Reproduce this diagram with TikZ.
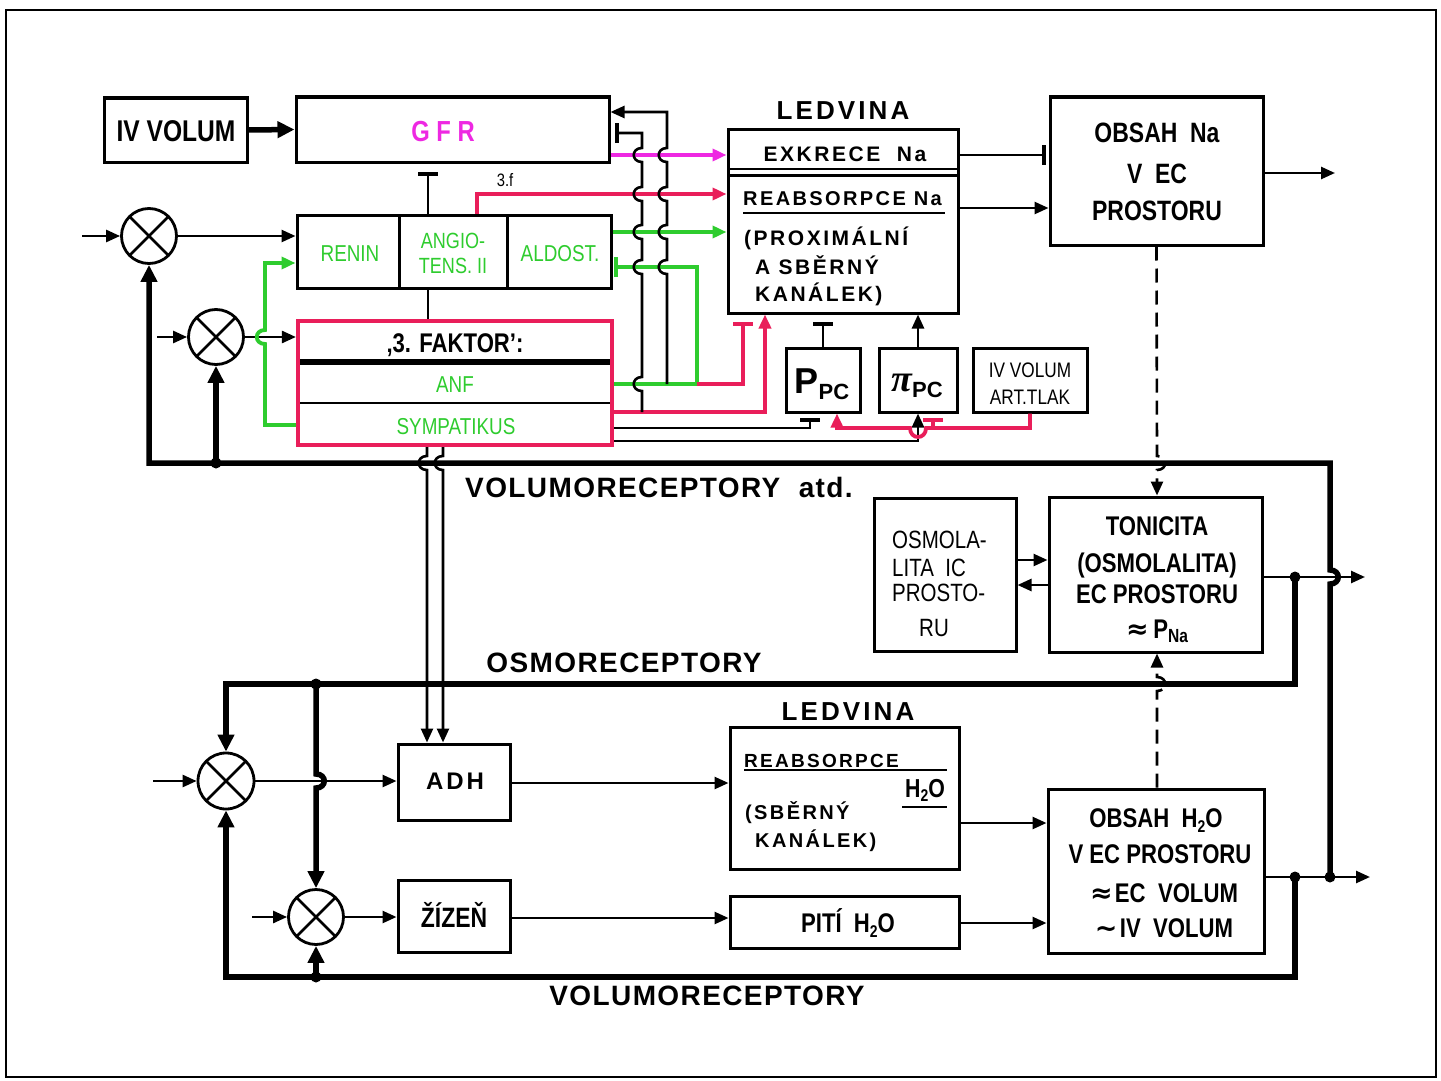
\documentclass[tikz,border=0pt]{standalone}
\usepackage{fontspec}
\setmainfont{Liberation Sans}
\newfontfamily\cond[FakeStretch=0.82]{Liberation Sans}
\newfontfamily\wideA[LetterSpace=5]{Liberation Sans}
\newfontfamily\wideB[LetterSpace=12]{Liberation Sans}
\newfontfamily\grk{Liberation Serif}
\newfontfamily\djv{DejaVu Sans}
\usetikzlibrary{arrows.meta}
\definecolor{tred}{RGB}{233,30,90}
\definecolor{tgreen}{RGB}{46,204,46}
\definecolor{tmag}{RGB}{238,40,226}
\newcommand{\fs}[1]{\fontsize{#1}{#1}\selectfont}
\newcommand{\lowsub}[2]{\raisebox{-0.35ex}{\fs{#1}#2}}
\newcommand{\hopup}[2]{-- (#1,#2+7) .. controls (#1-11,#2+7) and (#1-11,#2-7) .. (#1,#2-7)}
\newcommand{\hopdn}[2]{-- (#1,#2-7) .. controls (#1-11,#2-7) and (#1-11,#2+7) .. (#1,#2+7)}
\newcommand{\hopdnR}[2]{-- (#1,#2-7) .. controls (#1+11,#2-7) and (#1+11,#2+7) .. (#1,#2+7)}
\newcommand{\hopupR}[2]{-- (#1,#2+7) .. controls (#1+11,#2+7) and (#1+11,#2-7) .. (#1,#2-7)}
\begin{document}
\begin{tikzpicture}[x=1pt,y=-1pt,
  box/.style={draw,line width=3pt,inner sep=0pt},
  ln/.style={line width=2.6pt},
  col/.style={line width=3.8pt},
  thk/.style={line width=5.5pt},
  arr/.style={-{Triangle[length=14pt,width=12pt]}},
  Arr/.style={-{Triangle[length=17pt,width=16pt]}},
  inh/.style={-{Bar[width=20pt,line width=4pt]}},
  dsh/.style={dash pattern=on 14pt off 8pt},
  sj/.style={circle,draw,line width=2.8pt,minimum size=55pt,inner sep=0pt,
    path picture={\draw[line width=2.6pt] (path picture bounding box.north west)--(path picture bounding box.south east)
      (path picture bounding box.north east)--(path picture bounding box.south west);}},
  jdot/.style={circle,fill,inner sep=0pt,minimum size=11pt},
  tx/.style={inner sep=0pt,anchor=base},
  txl/.style={inner sep=0pt,anchor=base west},
  bk/.style={font=\cond\bfseries},
  gt/.style={text=tgreen,font=\cond}
]
\useasboundingbox (0,0) rectangle (1441,1081);
\fill[white] (0,0) rectangle (1441,1081);
\draw[line width=2.5pt] (6,10) rectangle (1436,1077);

% helper coordinates
\foreach \v in {427,428,443,477,765,837,918,1157}{\coordinate (x\v) at (\v,0);}
\foreach \v in {112,155,173,194,208,232,263,384,412,425,428,441,560,577,585,783,823,877,918,923}{\coordinate (y\v) at (0,\v);}

% ---------------- boxes ----------------
\node[box,minimum width=143pt,minimum height=64pt] (ivv) at (175.5,130) {};
\node[box,minimum width=313pt,minimum height=65pt] (gfr) at (452.5,129.5) {};
\node[box,minimum width=102pt,minimum height=73pt] (ren) at (348,251.5) {};
\node[box,minimum width=108pt,minimum height=73pt] (ang) at (453,251.5) {};
\node[box,minimum width=104pt,minimum height=73pt] (ald) at (559,251.5) {};
\node[draw=tred,line width=4.2pt,inner sep=0pt,minimum width=314pt,minimum height=124pt] (fak) at (455,383) {};
\node[box,minimum width=230pt,minimum height=184pt] (led1) at (843,221) {};
\node[box,minimum width=213pt,minimum height=148pt] (obna) at (1156.5,171) {};
\node[box,minimum width=74pt,minimum height=64pt] (ppc) at (823,380) {};
\node[box,minimum width=78pt,minimum height=64pt] (pipc) at (918,380) {};
\node[box,minimum width=114pt,minimum height=64pt] (ivart) at (1030,380) {};
\node[box,minimum width=213pt,minimum height=155pt] (ton) at (1155.5,574.5) {};
\node[box,minimum width=142pt,minimum height=153pt] (osm) at (945,574.5) {};
\node[box,minimum width=229pt,minimum height=142pt] (led2) at (844.5,798) {};
\node[box,minimum width=112pt,minimum height=76pt] (adh) at (454,782) {};
\node[box,minimum width=112pt,minimum height=72pt] (ziz) at (454,916) {};
\node[box,minimum width=229pt,minimum height=52pt] (piti) at (844.5,922) {};
\node[box,minimum width=216pt,minimum height=164pt] (obh) at (1156,871) {};

\node[sj] (j1) at (149,236) {};
\node[sj] (j2) at (216,337) {};
\node[sj,minimum size=56pt] (j3) at (226,781) {};
\node[sj] (j4) at (316,917) {};

% internal lines
\draw[line width=5.5pt] (300,362) -- (610,362);
\draw[line width=2.4pt] (300,403) -- (610,403);
\draw[line width=2.6pt] (729,169) -- (957,169) (729,175.5) -- (957,175.5);
\draw[line width=2.4pt] (743,213) -- (945,213);
\draw[line width=2.4pt] (744,770) -- (947,770);
\draw[line width=2.4pt] (902,807) -- (947,807);

% ---------------- texts ----------------
\node[tx,bk] at (176,141) {\fs{30}IV VOLUM};
\node[tx,bk,text=tmag] at (443,141) {\fs{29}G F R};
\node[tx,gt] at (350,261) {\fs{23}RENIN};
\node[tx,gt] at (453,248) {\fs{22}ANGIO-};
\node[tx,gt] at (453,273) {\fs{22}TENS. II};
\node[tx,gt] at (560,261) {\fs{23}ALDOST.};
\node[tx,font=\cond] at (505,186) {\fs{18}3.f};
\node[tx,bk] at (455,352) {\fs{27}‚3. FAKTOR’:};
\node[tx,gt] at (455,392) {\fs{23}ANF};
\node[tx,gt] at (456,434) {\fs{23}SYMPATIKUS};

\node[tx,font=\wideB\bfseries] at (843,119) {\fs{26}LEDVINA};
\node[tx,font=\wideB\bfseries] at (845,161) {\fs{21}EXKRECE\ \ Na};
\node[txl,font=\wideB\bfseries] at (743,205) {\fs{20}REABSORPCE Na};
\node[txl,font=\wideB\bfseries] at (744,245) {\fs{21}(PROXIMÁLNÍ};
\node[txl,font=\wideB\bfseries] at (755,274) {\fs{21}A SBĚRNÝ};
\node[txl,font=\wideB\bfseries] at (755,301) {\fs{21}KANÁLEK)};

\node[tx,bk] at (1157,142) {\fs{28}OBSAH\ \ Na};
\node[tx,bk] at (1157,183) {\fs{28}V\ \ EC};
\node[tx,bk] at (1157,220) {\fs{28}PROSTORU};

\node[tx,font=\bfseries] at (822,393) {\fs{36}P\lowsub{22}{PC}};
\node[tx] at (917,391) {{\grk\bfseries\itshape\fs{38}π}\bfseries\raisebox{-1.2ex}{\fs{22}PC}};
\node[tx,font=\cond] at (1030,377) {\fs{21}IV VOLUM};
\node[tx,font=\cond] at (1030,404) {\fs{21}ART.TLAK};

\node[tx,font=\wideA\bfseries] at (659,497) {\fs{28}VOLUMORECEPTORY\ \ atd.};
\node[txl,font=\cond] at (892,548) {\fs{25}OSMOLA-};
\node[txl,font=\cond] at (892,576) {\fs{25}LITA\ \ IC};
\node[txl,font=\cond] at (892,601) {\fs{25}PROSTO-};
\node[txl,font=\cond] at (919,636) {\fs{25}RU};
\node[tx,bk] at (1157,535) {\fs{27}TONICITA};
\node[tx,bk] at (1157,572) {\fs{27}(OSMOLALITA)};
\node[tx,bk] at (1157,603) {\fs{27}EC PROSTORU};
\node[tx,bk] at (1157,638) {{\djv\bfseries\fs{27}≈}\ \ \fs{27}P\lowsub{19}{Na}};

\node[tx,font=\wideA\bfseries] at (624,672) {\fs{28}OSMORECEPTORY};
\node[tx,font=\wideB\bfseries] at (848,720) {\fs{26}LEDVINA};
\node[txl,font=\wideB\bfseries] at (744,767) {\fs{19}REABSORPCE};
\node[tx,bk] at (925,797) {\fs{26}H\lowsub{17}{2}O};
\node[txl,font=\wideB\bfseries] at (745,819) {\fs{20}(SBĚRNÝ};
\node[txl,font=\wideB\bfseries] at (755,847) {\fs{20}KANÁLEK)};
\node[tx,font=\wideB\bfseries] at (455,789) {\fs{24}ADH};
\node[tx,bk] at (454,927) {\fs{28}ŽÍZEŇ};
\node[tx,bk] at (848,932) {\fs{27}PITÍ\ \ H\lowsub{17}{2}O};
\node[tx,bk] at (1156,827) {\fs{27}OBSAH\ \ H\lowsub{17}{2}O};
\node[tx,bk] at (1160,863) {\fs{27}V EC PROSTORU};
\node[tx,bk] at (1164,902) {{\djv\bfseries\fs{27}≈}\ \fs{27}EC\ \ VOLUM};
\node[tx,bk] at (1164,937) {{\djv\bfseries\fs{27}∼}\ \fs{27}IV\ \ VOLUM};
\node[tx,font=\wideA\bfseries] at (707,1005) {\fs{28}VOLUMORECEPTORY};

% ---------------- top connectors ----------------
\draw[thk,Arr] (ivv.east) -- (gfr.west);
\draw[ln,inh] (ang.north -| x428) -- (428,172);
\draw[ln] (ang.south -| x428) -- (fak.north -| x428);
\draw[col,tred,arr] (ang.north -| x477) -- (477,194) -- (led1.west |- y194);
\draw[col,tmag,arr] (gfr.east |- y155) -- (led1.west |- y155);
\draw[col,tgreen,arr] (ald.east |- y232) -- (led1.west |- y232);
\draw[col,tgreen,inh] (fak.east |- y384) -- (697,384) -- (697,267) -- (614,267);
\draw[col,tred,inh] (697,384) -- (743,384) -- (743,322);
\draw[col,tred,arr] (fak.east |- y412) -- (765,412) -- (led1.south -| x765);
\draw[ln,inh] (fak.east |- y428) -- (810,428) -- (810,418);
\draw[ln,arr] (fak.east |- y441) -- (918,441) -- (pipc.south);
\draw[ln,inh] (ppc.north) -- (823,322);
\draw[ln,arr] (pipc.north) -- (led1.south -| x918);
\draw[col,tred,arr] (ivart.south) -- (1030,428) -- (926,428)
   .. controls (926,440) and (910,440) .. (910,428) -- (837,428) -- (ppc.south -| x837);
\draw[col,tred,inh] (933,428) -- (933,418);
\draw[ln,arr] (667,384) \hopup{667}{267} \hopup{667}{232} \hopup{667}{194} \hopup{667}{155}
   -- (667,112) -- (gfr.east |- y112);
\draw[ln,inh] (642,412) \hopup{642}{384} \hopup{642}{267} \hopup{642}{232} \hopup{642}{194} \hopup{642}{155}
   -- (642,133) -- (615,133);

% summing junctions, top
\draw[ln,arr] (82,236) -- (j1.west);
\draw[ln,arr] (j1.east) -- (ren.west |- j1);
\draw[ln,arr] (157,337) -- (j2.west);
\draw[ln,arr] (j2.east) -- (fak.west |- j2);
\draw[col,tgreen,arr] (fak.west |- y425) -- (265,425) \hopup{265}{337} -- (265,263) -- (ren.west |- y263);
\draw[thk,Arr] (1330,877) \hopupR{1330}{577} -- (1330,463) -- (149,463) -- (j1.south);
\draw[thk,Arr] (216,463) -- (j2.south);
\node[jdot] at (216,463) {};

% third factor to ADH
\draw[ln,arr] (fak.south -| x427) \hopdn{427}{463} -- (adh.north -| x427);
\draw[ln,arr] (fak.south -| x443) \hopdn{443}{463} -- (adh.north -| x443);

% right part
\draw[ln,inh] (led1.east |- y155) -- (1046,155);
\draw[ln,arr] (led1.east |- y208) -- (obna.west |- y208);
\draw[ln,arr] (obna.east |- y173) -- (1335,173);
\draw[ln,dsh,arr] (obna.south) \hopdnR{1157}{463} -- (ton.north -| x1157);
\draw[ln,dsh,arr] (obh.north -| x1157) \hopupR{1157}{684} -- (ton.south -| x1157);
\draw[ln,arr] (osm.east |- y560) -- (ton.west |- y560);
\draw[ln,arr] (ton.west |- y585) -- (osm.east |- y585);
\draw[ln,arr] (ton.east |- y577) -- (1365,577);
\node[jdot] at (1295,577) {};

% lower loop
\draw[thk,Arr] (1295,577) -- (1295,684) -- (226,684) -- (j3.north);
\draw[thk,Arr] (316,684) \hopdnR{316}{781} -- (j4.north);
\node[jdot] at (316,684) {};
\draw[ln,arr] (153,781) -- (j3.west);
\draw[ln,arr] (j3.east) -- (adh.west |- j3);
\draw[ln,arr] (252,917) -- (j4.west);
\draw[ln,arr] (j4.east) -- (ziz.west |- j4);
\draw[ln,arr] (adh.east |- y783) -- (led2.west |- y783);
\draw[ln,arr] (ziz.east |- y918) -- (piti.west |- y918);
\draw[ln,arr] (led2.east |- y823) -- (obh.west |- y823);
\draw[ln,arr] (piti.east |- y923) -- (obh.west |- y923);
\draw[ln,arr] (obh.east |- y877) -- (1370,877);
\draw[thk,Arr] (1295,877) -- (1295,977) -- (226,977) -- (j3.south);
\draw[thk,Arr] (316,977) -- (j4.south);
\node[jdot] at (316,977) {};
\node[jdot] at (1295,877) {};
\node[jdot] at (1330,877) {};
\end{tikzpicture}
\end{document}
